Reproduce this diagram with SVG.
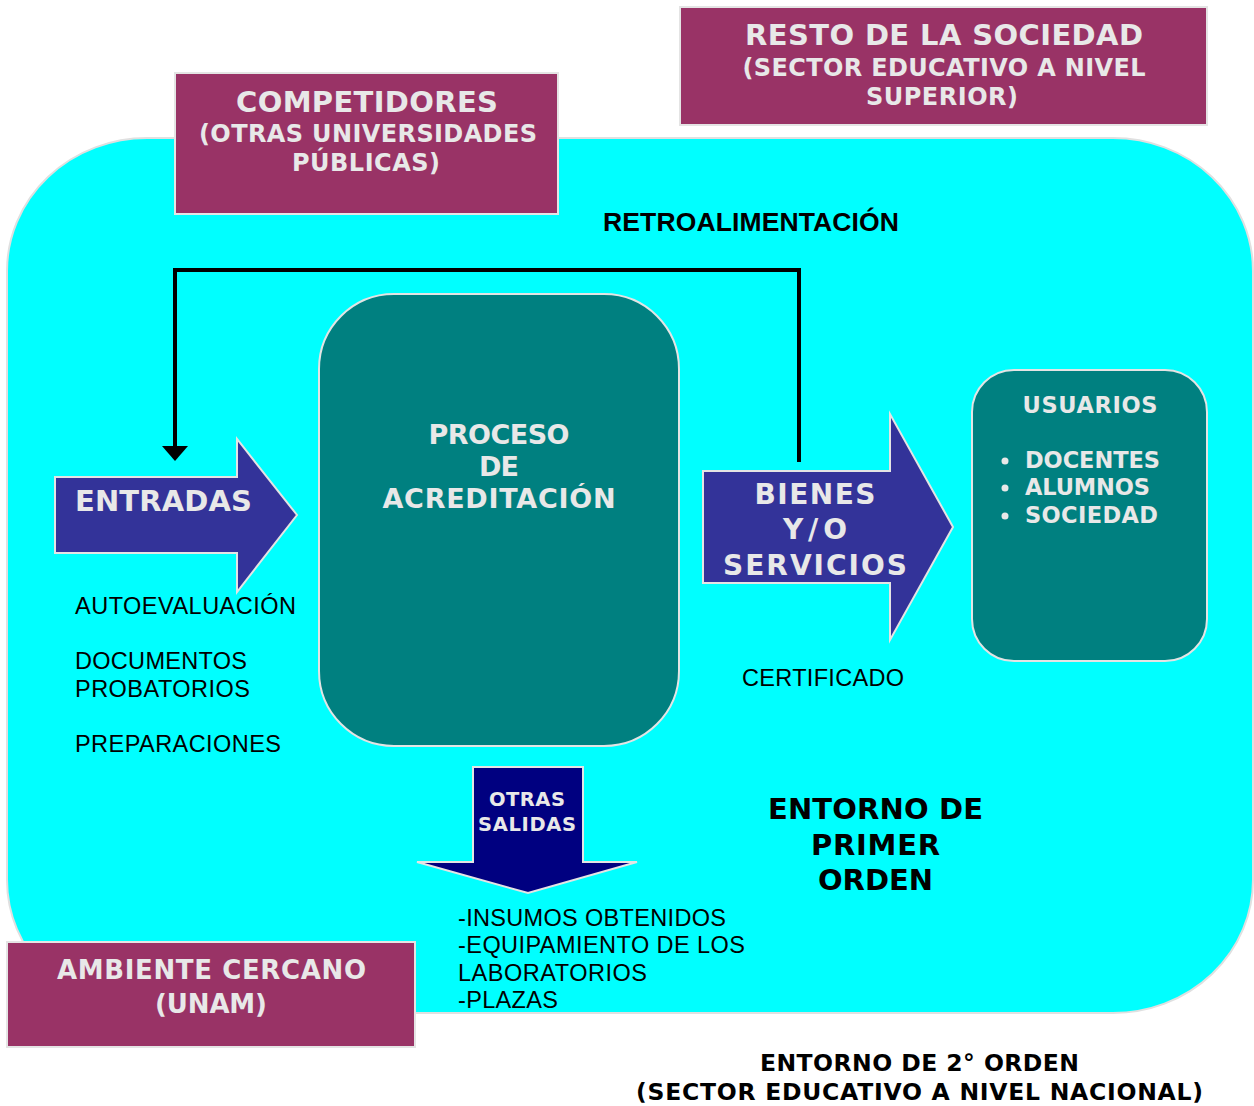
<svg xmlns="http://www.w3.org/2000/svg" width="1254" height="1106" viewBox="0 0 1254 1106">
<defs>
<style>
.plum{fill:#993366;stroke:#e4e4e4;stroke-width:2}
.lbl{font-family:"DejaVu Sans",Verdana,sans-serif;font-weight:bold;fill:#e8e8e8;text-anchor:middle}
.lblL{font-family:"DejaVu Sans",Verdana,sans-serif;font-weight:bold;fill:#e8e8e8}
.blk{font-family:"DejaVu Sans",Verdana,sans-serif;font-weight:bold;fill:#000;text-anchor:middle}
.reg{font-family:"Liberation Sans",Arial,sans-serif;fill:#000;font-size:23.5px}
.teal{fill:#008080;stroke:#e4e4e4;stroke-width:2}
.arr{fill:#333399;stroke:#e4e4e4;stroke-width:2}
.conn{fill:none;stroke:#000;stroke-width:4}
</style>
<marker id="ah" viewBox="0 0 15 26" markerWidth="15" markerHeight="26" refX="4" refY="13" orient="auto" markerUnits="userSpaceOnUse">
<path d="M0,0 L15,13 L0,26 Z" fill="#000"/>
</marker>
</defs>
<rect width="1254" height="1106" fill="#fff"/>

<g id="entorno1">
<rect x="7" y="138" width="1246" height="875" rx="140" ry="133" fill="#00ffff" stroke="#e0e0e0" stroke-width="2"/>
</g>

<g id="competidores">
<rect class="plum" x="175" y="73" width="383" height="141"/>
<text class="lbl" x="367" y="112" font-size="29" textLength="262">COMPETIDORES</text>
<text class="lbl" x="368" y="142" font-size="24" textLength="338">(OTRAS UNIVERSIDADES</text>
<text class="lbl" x="366" y="171" font-size="24" textLength="148">PÚBLICAS)</text>
</g>

<g id="resto">
<rect class="plum" x="680" y="7" width="527" height="118"/>
<text class="lbl" x="944" y="45" font-size="29" textLength="398">RESTO DE LA SOCIEDAD</text>
<text class="lbl" x="944" y="76" font-size="24" textLength="403">(SECTOR EDUCATIVO A NIVEL</text>
<text class="lbl" x="942" y="105" font-size="24" textLength="152">SUPERIOR)</text>
</g>

<g id="retro-label">
<text x="603" y="231" font-family="Liberation Sans,Arial,sans-serif" font-weight="bold" font-size="26.5" textLength="296" fill="#000">RETROALIMENTACIÓN</text>
</g>

<g id="proceso">
<rect class="teal" x="319" y="294" width="360" height="452" rx="75" ry="75"/>
<text class="lbl" x="499" y="444" font-size="27" textLength="141">PROCESO</text>
<text class="lbl" x="499" y="476" font-size="27" textLength="40">DE</text>
<text class="lbl" x="499" y="508" font-size="27" textLength="233">ACREDITACIÓN</text>
</g>

<g id="entradas">
<polygon class="arr" points="55,477 237,477 237,439 297,515 237,592 237,553 55,553"/>
<text class="lblL" x="75" y="511" font-size="29" textLength="177">ENTRADAS</text>
</g>

<g id="entradas-texto">
<text class="reg" x="75" y="614" textLength="221">AUTOEVALUACIÓN</text>
<text class="reg" x="75" y="669" textLength="172">DOCUMENTOS</text>
<text class="reg" x="75" y="697" textLength="175">PROBATORIOS</text>
<text class="reg" x="75" y="752" textLength="206">PREPARACIONES</text>
</g>

<g id="bienes">
<polygon class="arr" points="703,471 890,471 890,414 953,527 890,640 890,583 703,583"/>
<text class="lbl" x="815" y="504" font-size="28" textLength="121">BIENES</text>
<text class="lbl" x="815" y="539" font-size="28" textLength="64">Y/O</text>
<text class="lbl" x="815" y="575" font-size="28" textLength="184">SERVICIOS</text>
</g>

<g id="certificado">
<text class="reg" x="742" y="686" textLength="162">CERTIFICADO</text>
</g>

<g id="usuarios">
<rect class="teal" x="972" y="370" width="235" height="291" rx="42" ry="42"/>
<text class="lbl" x="1090" y="413" font-size="22.5" textLength="135">USUARIOS</text>
<circle cx="1005" cy="461" r="3.5" fill="#e8e8e8"/>
<circle cx="1005" cy="488" r="3.5" fill="#e8e8e8"/>
<circle cx="1005" cy="516" r="3.5" fill="#e8e8e8"/>
<text class="lblL" x="1025" y="468" font-size="22.5" textLength="135">DOCENTES</text>
<text class="lblL" x="1025" y="495" font-size="22.5" textLength="125">ALUMNOS</text>
<text class="lblL" x="1025" y="523" font-size="22.5" textLength="133">SOCIEDAD</text>
</g>

<g id="otras-salidas">
<polygon points="473,767 583,767 583,862 637,862 528,893 417,862 473,862" fill="#000080" stroke="#e4e4e4" stroke-width="2"/>
<text class="lbl" x="527" y="806" font-size="19.5" textLength="76">OTRAS</text>
<text class="lbl" x="527" y="831" font-size="19.5" textLength="98">SALIDAS</text>
</g>

<g id="salidas-texto">
<text class="reg" x="458" y="926" textLength="268">-INSUMOS OBTENIDOS</text>
<text class="reg" x="458" y="953" textLength="287">-EQUIPAMIENTO DE LOS</text>
<text class="reg" x="458" y="981" textLength="189">LABORATORIOS</text>
<text class="reg" x="458" y="1008" textLength="100">-PLAZAS</text>
</g>

<g id="entorno1-label">
<text class="blk" x="875.5" y="819" font-size="29" textLength="215">ENTORNO DE</text>
<text class="blk" x="875.5" y="855" font-size="29" textLength="129">PRIMER</text>
<text class="blk" x="875.5" y="890" font-size="29" textLength="115">ORDEN</text>
</g>

<g id="ambiente">
<rect class="plum" x="7" y="942" width="408" height="105"/>
<text class="lbl" x="211.5" y="979" font-size="26" textLength="309">AMBIENTE CERCANO</text>
<text class="lbl" x="211" y="1013" font-size="26" textLength="112">(UNAM)</text>
</g>

<g id="entorno2-label">
<text class="blk" x="919.5" y="1071" font-size="23.5" textLength="319">ENTORNO DE 2° ORDEN</text>
<text class="blk" x="919.5" y="1100" font-size="23.5" textLength="567">(SECTOR EDUCATIVO A NIVEL NACIONAL)</text>
</g>

<g id="connectors">
<path class="conn" d="M799,462 V270 H175 V450" marker-end="url(#ah)"/>
</g>
</svg>
